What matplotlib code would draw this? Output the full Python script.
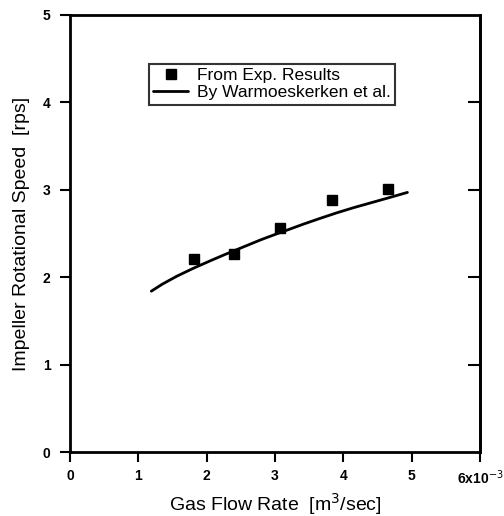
import matplotlib
matplotlib.use("Agg")
import matplotlib.pyplot as plt

plt.rcParams['font.family'] = ['Liberation Sans', 'DejaVu Sans']

# measured points
exp_flow = [1.81, 2.40, 3.08, 3.84, 4.66]
exp_speed = [2.21, 2.26, 2.56, 2.88, 3.01]

# curve
model_flow = [1.19, 1.35, 1.56, 1.8, 2.06, 2.3, 2.55, 2.8, 3.04, 3.2, 3.41,
              3.65, 3.90, 4.15, 4.40, 4.65, 4.94]
model_speed = [1.84, 1.92, 2.01, 2.10, 2.19, 2.27, 2.35, 2.43, 2.50, 2.545, 2.605,
               2.67, 2.735, 2.795, 2.85, 2.905, 2.97]

xticks = [0, 1, 2, 3, 4, 5, 6]
xtick_labels = ['0', '1', '2', '3', '4', '5', '6x10$^{-3}$']
yticks = [0, 1, 2, 3, 4, 5]

fig = plt.figure(figsize=(5.04, 5.16), dpi=100)
ax = fig.add_axes([0.139, 0.124, 0.813, 0.847])

ax.plot(model_flow, model_speed, color='black', lw=2, solid_joinstyle='round',
        solid_capstyle='round', label='By Warmoeskerken et al.')
ax.plot(exp_flow, exp_speed, 's', color='black', ms=7, label='From Exp. Results')

ax.set_xlim(0, 6)
ax.set_ylim(0, 5)
ax.set_xticks(xticks)
ax.set_xticklabels(xtick_labels)
ax.set_yticks(yticks)

for s in ax.spines.values():
    s.set_linewidth(2)

ax.tick_params(axis='x', direction='out', length=7, width=1.5, labelsize=10, pad=5)
ax.tick_params(axis='y', direction='out', length=7, width=1.5, labelsize=10, pad=7)
# inward ticks on the right side
ax2 = ax.secondary_yaxis('right')
ax2.set_yticks([1, 2, 3, 4])
ax2.tick_params(direction='in', length=9, width=1.5, labelright=False)
ax2.spines['right'].set_linewidth(2)

for lbl in ax.get_xticklabels() + ax.get_yticklabels():
    lbl.set_fontweight('bold')

ax.set_xlabel('Gas Flow Rate  [m$^3$/sec]', fontsize=14, labelpad=3)
ax.set_ylabel('Impeller Rotational Speed  [rps]', fontsize=14, labelpad=9)

handles, labels = ax.get_legend_handles_labels()
leg = ax.legend(handles[::-1], labels[::-1], loc='upper left',
                bbox_to_anchor=(0.193, 0.888), fontsize=12.5, frameon=True,
                fancybox=False, edgecolor='black', handlelength=2.0,
                handletextpad=0.5, borderpad=0.25, labelspacing=0.1,
                borderaxespad=0)
leg.get_frame().set_linewidth(1.5)

fig.savefig('out.png', dpi=100)
